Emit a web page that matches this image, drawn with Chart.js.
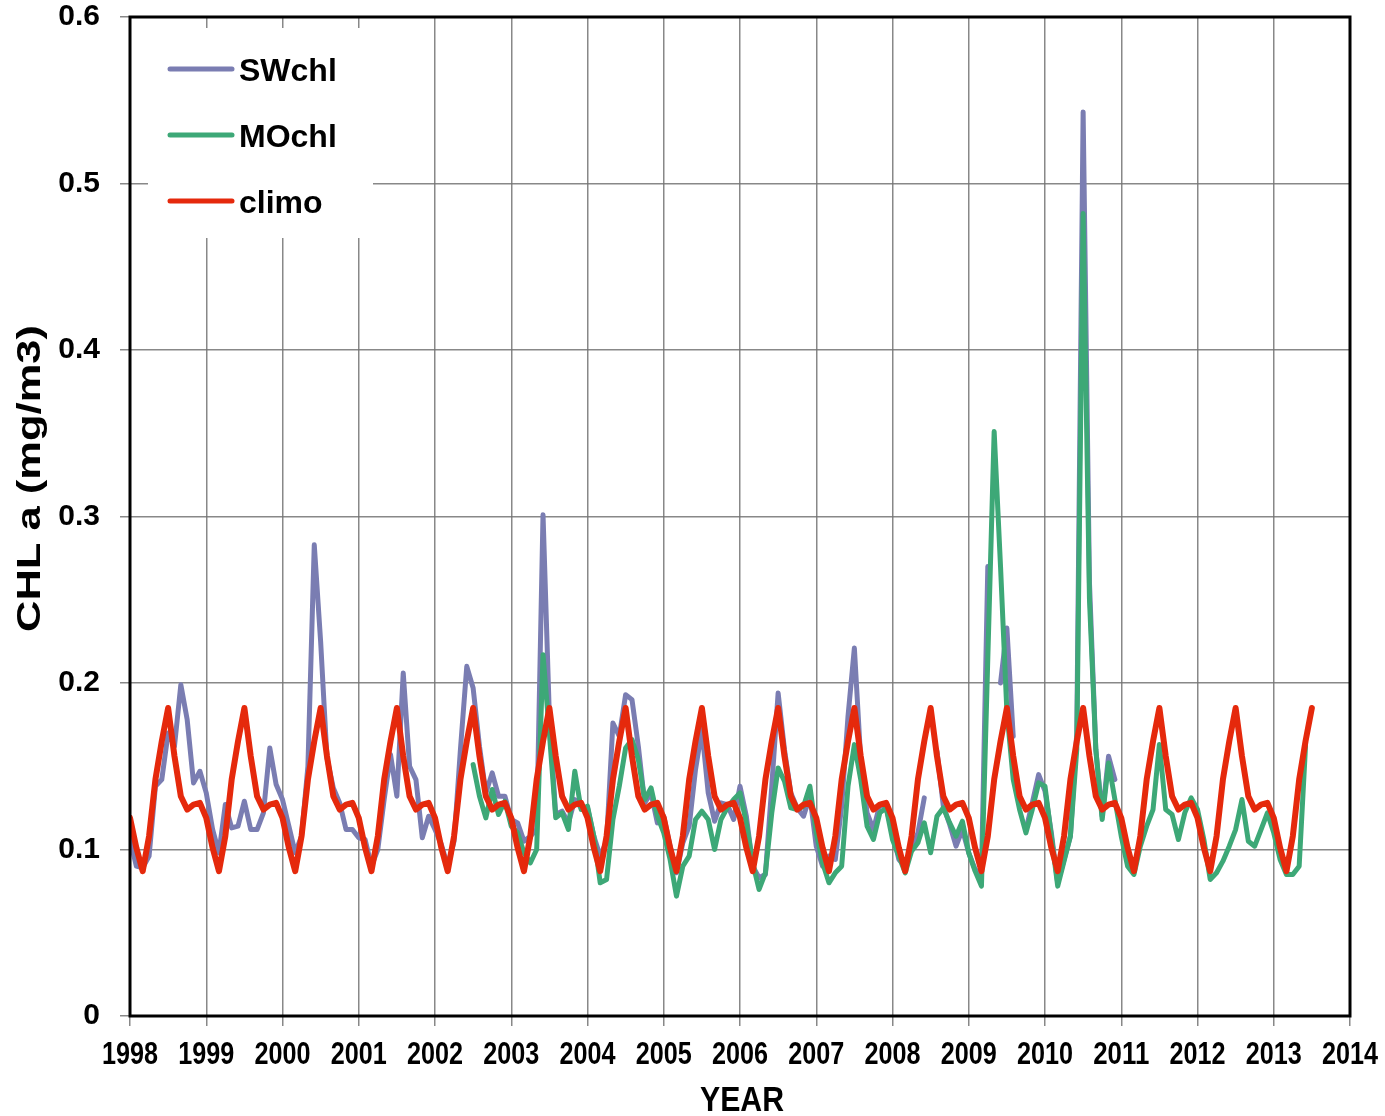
<!DOCTYPE html>
<html>
<head>
<meta charset="utf-8">
<title>CHL a 1998-2014</title>
<script src="https://cdn.jsdelivr.net/npm/chart.js@4.4.1/dist/chart.umd.min.js"></script>
<style>
  html, body { margin: 0; padding: 0; background: #ffffff; }
  #wrap { width: 1385px; height: 1116px; position: relative; }
</style>
</head>
<body>
<div id="wrap"><canvas id="chl"></canvas></div>
<script>
// Monthly chlorophyll-a (mg/m3); each series starts at the month given by its offset from Jan 1998.
const START_YEAR = 1998;
const yearTicks = [1998, 1999, 2000, 2001, 2002, 2003, 2004, 2005, 2006, 2007, 2008, 2009, 2010, 2011, 2012, 2013, 2014];
const chlTicks = [0, 0.1, 0.2, 0.3, 0.4, 0.5, 0.6];
const seriesNames = ['SWchl', 'MOchl', 'climo'];

// SeaWiFS, Jan 1998 - Dec 2010 (null = no data)
const swchlStart = 0;
const swchl = [
  0.106, 0.090, 0.089, 0.096, 0.138, 0.142, 0.170, 0.162, 0.199, 0.178, 0.140, 0.147, // 1998
  0.134, 0.112, 0.098, 0.127, 0.113, 0.114, 0.129, 0.112, 0.112, 0.122, 0.161, 0.139, // 1999
  0.130, 0.114, 0.098, 0.108, 0.150, 0.283, 0.225, 0.155, 0.137, 0.128, 0.112, 0.112, // 2000
  0.107, 0.106, 0.090, 0.100, 0.130, 0.157, 0.132, 0.206, 0.150, 0.142, 0.107, 0.120, // 2001
  0.112, 0.103, 0.090, 0.105, 0.160, 0.210, 0.197, 0.162, 0.134, 0.146, 0.132, 0.132, // 2002
  0.118, 0.116, 0.105, 0.108, 0.112, 0.301, 0.180, 0.121, 0.123, 0.116, 0.130, 0.125, // 2003
  0.125, 0.108, 0.096, 0.105, 0.176, 0.168, 0.193, 0.190, 0.162, 0.128, 0.134, 0.116, // 2004
  0.120, 0.102, 0.086, 0.104, 0.114, 0.148, 0.172, 0.134, 0.117, 0.128, 0.127, 0.118, // 2005
  0.138, 0.120, 0.090, 0.083, 0.085, 0.138, 0.194, 0.160, 0.134, 0.125, 0.120, 0.132, // 2006
  0.102, 0.090, 0.096, 0.094, 0.126, 0.180, 0.221, 0.154, 0.122, 0.112, 0.127, 0.125, // 2007
  0.110, 0.094, 0.090, 0.100, 0.110, 0.131, null,  0.159, 0.126, 0.115, 0.102, 0.112, // 2008
  0.098, 0.088, 0.085, 0.270, null,  0.200, 0.233, 0.168, null,  0.112, 0.128, 0.145, // 2009
  0.135, 0.110, 0.080, 0.094, 0.108, 0.170, 0.543, 0.260, 0.160, 0.120, 0.156, 0.142  // 2010
];

// MODIS, Jul 2002 - Jun 2013
const mochlStart = 54;
const mochl = [
                                     0.151, 0.132, 0.119, 0.136, 0.121, 0.129, // 2002
  0.114, 0.110, 0.098, 0.092, 0.100, 0.217, 0.170, 0.119, 0.122, 0.112, 0.147, 0.124, // 2003
  0.126, 0.108, 0.080, 0.082, 0.118, 0.138, 0.161, 0.166, 0.154, 0.130, 0.137, 0.120, // 2004
  0.110, 0.094, 0.072, 0.090, 0.096, 0.118, 0.123, 0.118, 0.100, 0.118, 0.125, 0.130, // 2005
  0.134, 0.116, 0.092, 0.076, 0.086, 0.122, 0.149, 0.141, 0.125, 0.124, 0.126, 0.138, // 2006
  0.110, 0.092, 0.080, 0.086, 0.090, 0.138, 0.163, 0.142, 0.114, 0.106, 0.122, 0.125, // 2007
  0.106, 0.096, 0.086, 0.099, 0.104, 0.116, 0.098, 0.120, 0.125, 0.116, 0.108, 0.117, // 2008
  0.098, 0.087, 0.078, 0.215, 0.351, 0.270, 0.183, 0.142, 0.124, 0.110, 0.124, 0.140, // 2009
  0.138, 0.108, 0.078, 0.093, 0.108, 0.160, 0.482, 0.250, 0.160, 0.118, 0.152, 0.130, // 2010
  0.108, 0.090, 0.085, 0.102, 0.114, 0.124, 0.163, 0.124, 0.121, 0.106, 0.122, 0.131, // 2011
  0.124, 0.106, 0.082, 0.086, 0.093, 0.102, 0.112, 0.130, 0.105, 0.102, 0.112, 0.122, // 2012
  0.110, 0.094, 0.085, 0.085, 0.090, 0.162                                            // 2013
];

// Monthly climatology, Jan 1998 - Jul 2013
const climoStart = 0;
const climo = [
  0.119, 0.101, 0.087, 0.108, 0.142, 0.165, 0.185, 0.156, 0.132, 0.124, 0.127, 0.128, // 1998
  0.119, 0.101, 0.087, 0.108, 0.142, 0.165, 0.185, 0.156, 0.132, 0.124, 0.127, 0.128, // 1999
  0.119, 0.101, 0.087, 0.108, 0.142, 0.165, 0.185, 0.156, 0.132, 0.124, 0.127, 0.128, // 2000
  0.119, 0.101, 0.087, 0.108, 0.142, 0.165, 0.185, 0.156, 0.132, 0.124, 0.127, 0.128, // 2001
  0.119, 0.101, 0.087, 0.108, 0.142, 0.165, 0.185, 0.156, 0.132, 0.124, 0.127, 0.128, // 2002
  0.119, 0.101, 0.087, 0.108, 0.142, 0.165, 0.185, 0.156, 0.132, 0.124, 0.127, 0.128, // 2003
  0.119, 0.101, 0.087, 0.108, 0.142, 0.165, 0.185, 0.156, 0.132, 0.124, 0.127, 0.128, // 2004
  0.119, 0.101, 0.087, 0.108, 0.142, 0.165, 0.185, 0.156, 0.132, 0.124, 0.127, 0.128, // 2005
  0.119, 0.101, 0.087, 0.108, 0.142, 0.165, 0.185, 0.156, 0.132, 0.124, 0.127, 0.128, // 2006
  0.119, 0.101, 0.087, 0.108, 0.142, 0.165, 0.185, 0.156, 0.132, 0.124, 0.127, 0.128, // 2007
  0.119, 0.101, 0.087, 0.108, 0.142, 0.165, 0.185, 0.156, 0.132, 0.124, 0.127, 0.128, // 2008
  0.119, 0.101, 0.087, 0.108, 0.142, 0.165, 0.185, 0.156, 0.132, 0.124, 0.127, 0.128, // 2009
  0.119, 0.101, 0.087, 0.108, 0.142, 0.165, 0.185, 0.156, 0.132, 0.124, 0.127, 0.128, // 2010
  0.119, 0.101, 0.087, 0.108, 0.142, 0.165, 0.185, 0.156, 0.132, 0.124, 0.127, 0.128, // 2011
  0.119, 0.101, 0.087, 0.108, 0.142, 0.165, 0.185, 0.156, 0.132, 0.124, 0.127, 0.128, // 2012
  0.119, 0.101, 0.087, 0.108, 0.142, 0.165, 0.185                                     // 2013
];

const seriesColors = ['#7a7db2', '#3da877', '#e5290c'];

function monthly(values, startMonth) {
  return values.map((v, i) => ({ x: START_YEAR + (startMonth + i) / 12, y: v }));
}

const FONT = '"Liberation Sans", Arial, sans-serif';
const GRID = 'rgba(115,115,115,0.85)';

// Text drawn centred on (cx, cy), squeezed or stretched along its baseline
function condensedText(ctx, text, cx, cy, px, factor, rotated) {
  ctx.save();
  ctx.translate(cx, cy);
  if (rotated) ctx.rotate(-Math.PI / 2);
  ctx.font = 'bold ' + px + 'px ' + FONT;
  ctx.scale(factor, 1);
  ctx.fillStyle = '#000';
  ctx.textAlign = 'center';
  ctx.textBaseline = 'middle';
  ctx.fillText(text, 0, 0);
  ctx.restore();
}

function textFactor(ctx, text, px, length) {
  ctx.save();
  ctx.font = 'bold ' + px + 'px ' + FONT;
  const w = ctx.measureText(text).width;
  ctx.restore();
  return length / w;
}

// Black frame around the plotting area
const framePlugin = {
  id: 'frame',
  afterDatasetsDraw(chart) {
    const { ctx, chartArea: a } = chart;
    ctx.save();
    ctx.strokeStyle = '#000';
    ctx.lineWidth = 3;
    ctx.strokeRect(a.left, a.top, a.right - a.left, a.bottom - a.top);
    ctx.restore();
  }
};

// Boxed legend in the upper-left corner of the plot
const boxLegend = {
  id: 'boxLegend',
  beforeDatasetsDraw(chart) {
    const { ctx, chartArea: a } = chart;
    const x0 = a.left + 18, y0 = a.top + 11;
    ctx.save();
    ctx.fillStyle = '#fff';
    ctx.fillRect(x0, y0, 225, 210);
    chart.data.datasets.forEach((ds, i) => {
      const y = y0 + 41 + i * 66;
      ctx.strokeStyle = ds.borderColor;
      ctx.lineWidth = 5;
      ctx.lineCap = 'round';
      ctx.beginPath();
      ctx.moveTo(x0 + 22, y);
      ctx.lineTo(x0 + 84, y);
      ctx.stroke();
      ctx.fillStyle = '#000';
      ctx.font = 'bold 32px ' + FONT;
      ctx.textAlign = 'left';
      ctx.textBaseline = 'middle';
      ctx.fillText(ds.label, x0 + 91, y + 3);
    });
    ctx.restore();
  }
};

// Year labels under the x axis, in condensed lettering
const yearLabels = {
  id: 'yearLabels',
  afterDraw(chart) {
    const { ctx, chartArea: a } = chart;
    const sx = chart.scales.x;
    const fmt = chart.options.scales.x.ticks.callback;
    sx.ticks.forEach(t => {
      const label = fmt(t.value);
      const f = textFactor(ctx, label, 31, 56);
      condensedText(ctx, label, sx.getPixelForValue(t.value), a.bottom + 39, 31, f, false);
    });
  }
};

// Axis titles in tall, condensed lettering
const axisTitles = {
  id: 'axisTitles',
  afterDraw(chart) {
    const { ctx, chartArea: a } = chart;
    const yt = chart.options.scales.y.title.text;
    const xt = chart.options.scales.x.title.text;
    condensedText(ctx, yt, 31, (a.top + a.bottom) / 2 - 38, 33, textFactor(ctx, yt, 33, 307), true);
    condensedText(ctx, xt, 742, 1101, 35, textFactor(ctx, xt, 35, 84), false);
  }
};

new Chart(document.getElementById('chl'), {
  type: 'line',
  data: {
    datasets: [
      { label: seriesNames[0], data: monthly(swchl, swchlStart), borderColor: seriesColors[0], borderWidth: 5, order: 3 },
      { label: seriesNames[1], data: monthly(mochl, mochlStart), borderColor: seriesColors[1], borderWidth: 5, order: 2 },
      { label: seriesNames[2], data: monthly(climo, climoStart), borderColor: seriesColors[2], borderWidth: 6, order: 1 }
    ]
  },
  options: {
    responsive: true,
    maintainAspectRatio: false,
    animation: false,
    devicePixelRatio: 1,
    spanGaps: false,
    layout: { padding: { top: 17, right: 35, bottom: 0, left: 0 } },
    elements: {
      point: { radius: 0, hoverRadius: 0 },
      line: { tension: 0, borderJoinStyle: 'round', borderCapStyle: 'round', fill: false }
    },
    plugins: {
      legend: { display: false },
      tooltip: { enabled: false }
    },
    scales: {
      x: {
        type: 'linear',
        min: yearTicks[0],
        max: yearTicks[yearTicks.length - 1],
        afterBuildTicks: s => { s.ticks = yearTicks.map(v => ({ value: v })); },
        afterFit: s => { s.height = 100; s.paddingLeft = 0; s.paddingRight = 0; },
        ticks: {
          display: false,
          callback: v => String(v),
          autoSkip: false
        },
        grid: { color: GRID, lineWidth: 1.5, tickLength: 10 },
        border: { display: false },
        title: { display: false, text: 'YEAR' }
      },
      y: {
        min: chlTicks[0],
        max: chlTicks[chlTicks.length - 1],
        afterBuildTicks: s => { s.ticks = chlTicks.map(v => ({ value: v })); },
        afterFit: s => { s.width = 130; s.paddingTop = 0; s.paddingBottom = 0; },
        ticks: {
          callback: v => (v === 0 ? '0' : v.toFixed(1)),
          color: '#000',
          font: { family: FONT, size: 30, weight: 'bold' },
          padding: 20
        },
        grid: { color: GRID, lineWidth: 1.5, tickLength: 10 },
        border: { display: false },
        title: { display: false, text: 'CHL a (mg/m3)' }
      }
    }
  },
  plugins: [framePlugin, boxLegend, yearLabels, axisTitles]
});
</script>
</body>
</html>
